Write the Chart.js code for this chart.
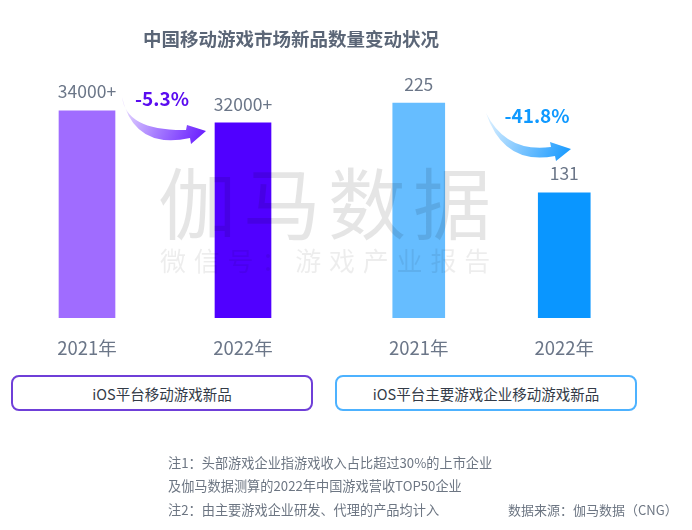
<!DOCTYPE html>
<html lang="zh">
<head>
<meta charset="utf-8">
<title>中国移动游戏市场新品数量变动状况</title>
<script src="https://cdn.jsdelivr.net/npm/chart.js@4"></script>
<style>
  html, body { margin: 0; padding: 0; background: #fff; }
  body { width: 692px; height: 530px; position: relative; overflow: hidden; font-family: "Noto Sans CJK SC", sans-serif; }
  canvas { position: absolute; top: 0; }
  .abs { position: absolute; white-space: nowrap; }
  .title { left: 143px; top: 25px; font-size: 18.5px; line-height: 26px; font-weight: 700; color: #5b6677; }
  .mark { left: 158px; top: 150px; font-size: 78px; line-height: 100px; letter-spacing: 7px; font-weight: 400; color: rgba(0, 0, 0, 0.1); }
  .mark-sub { left: 160px; top: 243px; font-size: 26px; line-height: 34px; letter-spacing: 7.8px; font-weight: 400; color: rgba(0, 0, 0, 0.07); }
  .box { top: 375px; height: 32px; width: 298px; border: 2px solid; border-radius: 8px; text-align: center; font-size: 14.5px; line-height: 33px; color: #333b47; background: #fff; }
  .note { font-size: 13.2px; line-height: 18px; color: #6d7683; }
  .source { font-size: 13px; line-height: 18px; color: #6d7683; }
</style>
</head>
<body>
<canvas id="leftChart" width="346" height="530" style="left:0"></canvas>
<canvas id="rightChart" width="346" height="530" style="left:346px"></canvas>

<div class="abs title">中国移动游戏市场新品数量变动状况</div>
<div class="abs mark">伽马数据</div>
<div class="abs mark-sub">微信号&#xFF1A;游戏产业报告</div>

<div class="abs box" style="left:11px;border-color:#6f3fd8">iOS平台移动游戏新品</div>
<div class="abs box" style="left:335px;border-color:#4db2ff">iOS平台主要游戏企业移动游戏新品</div>

<div class="abs note" style="left:168px;top:454px">注1&#xFF1A;头部游戏企业指游戏收入占比超过30%的上市企业</div>
<div class="abs note" style="left:168px;top:477px">及伽马数据测算的2022年中国游戏营收TOP50企业</div>
<div class="abs note" style="left:168px;top:501px">注2&#xFF1A;由主要游戏企业研发、代理的产品均计入</div>
<div class="abs source" style="left:508px;top:501px">数据来源&#xFF1A;伽马数据&#xFF08;CNG&#xFF09;</div>

<script>
const years = ["2021年", "2022年"]
const iosNew = [34000, 32000]
const iosLabels = ["34000+", "32000+"]
const topCompanyNew = [225, 131]
const topCompanyLabels = ["225", "131"]
const iosChange = "-5.3%"
const topCompanyChange = "-41.8%"

const fontFamily = '"Noto Sans CJK SC", sans-serif'
const labelColor = "#6b7688"

// curved arrow between the two bars, points are relative to the canvas
function drawArrow(ctx, a) {
  const grad = ctx.createLinearGradient(a.start[0], a.start[1], a.tip[0], a.tip[1])
  grad.addColorStop(0, a.pale)
  grad.addColorStop(0.5, a.mid)
  grad.addColorStop(1, a.color)
  ctx.save()
  ctx.fillStyle = grad
  ctx.beginPath()
  ctx.moveTo(a.start[0], a.start[1])
  ctx.quadraticCurveTo(a.upperCtl[0], a.upperCtl[1], a.neckTop[0], a.neckTop[1])
  ctx.lineTo(a.headTop[0], a.headTop[1])
  ctx.lineTo(a.tip[0], a.tip[1])
  ctx.lineTo(a.headBottom[0], a.headBottom[1])
  ctx.lineTo(a.neckBottom[0], a.neckBottom[1])
  ctx.quadraticCurveTo(a.lowerCtl[0], a.lowerCtl[1], a.start[0], a.start[1])
  ctx.closePath()
  ctx.fill()
  ctx.restore()
}

const barText = {
  id: "barText",
  afterDatasetsDraw(chart, args, opts) {
    const { ctx } = chart
    const meta = chart.getDatasetMeta(0)
    ctx.save()
    ctx.font = "17.5px " + fontFamily
    ctx.fillStyle = labelColor
    ctx.textAlign = "center"
    ctx.textBaseline = "middle"
    meta.data.forEach((bar, i) => {
      ctx.fillText(opts.labels[i], bar.x, bar.y - 19)
    })
    ctx.restore()

    drawArrow(ctx, opts.arrow)

    ctx.save()
    ctx.font = "700 19px " + fontFamily
    ctx.fillStyle = opts.changeColor
    ctx.textAlign = "center"
    ctx.textBaseline = "middle"
    ctx.fillText(opts.change, opts.changeAt[0], opts.changeAt[1])
    ctx.restore()
  }
}

function buildChart(id, values, colors, max, barWidth, padding, textOpts) {
  return new Chart(document.getElementById(id).getContext("2d"), {
    type: "bar",
    data: {
      labels: years,
      datasets: [{ data: values, backgroundColor: colors, barThickness: barWidth }]
    },
    options: {
      responsive: false,
      animation: false,
      devicePixelRatio: 1,
      layout: { padding },
      plugins: {
        legend: { display: false },
        tooltip: { enabled: false },
        barText: textOpts
      },
      scales: {
        x: {
          grid: { display: false, drawTicks: false },
          border: { display: false },
          ticks: { color: labelColor, padding: 19, font: { size: 18.5, family: fontFamily } },
          afterFit: s => { s.height = 212 }
        },
        y: { display: false, min: 0, max }
      }
    },
    plugins: [barText]
  })
}

window.addEventListener("load", () => {
  buildChart("leftChart", iosNew, ["#a06cff", "#5000ff"], 42000, 56,
    { left: 9, right: 25, top: 62, bottom: 0 },
    {
      labels: iosLabels,
      change: iosChange,
      changeColor: "#5a0cf0",
      changeAt: [162, 99],
      arrow: {
        start: [122, 97], upperCtl: [126, 131], neckTop: [186, 130],
        headTop: [187, 125], tip: [206, 131], headBottom: [191, 144],
        neckBottom: [190, 138], lowerCtl: [134, 150],
        pale: "#efe6ff", mid: "#a67cff", color: "#6a1fff"
      }
    })

  buildChart("rightChart", topCompanyNew, ["#66bdff", "#0a96ff"], 270, 52,
    { left: -1, right: 55, top: 60, bottom: 0 },
    {
      labels: topCompanyLabels,
      change: topCompanyChange,
      changeColor: "#0f99ff",
      changeAt: [191, 116],
      arrow: {
        start: [140, 113], upperCtl: [160, 153], neckTop: [205, 147],
        headTop: [204, 142], tip: [225, 149], headBottom: [210, 161],
        neckBottom: [209, 156], lowerCtl: [158, 166],
        pale: "#e3f3ff", mid: "#7cc5ff", color: "#1a9bff"
      }
    })
})
</script>
</body>
</html>
